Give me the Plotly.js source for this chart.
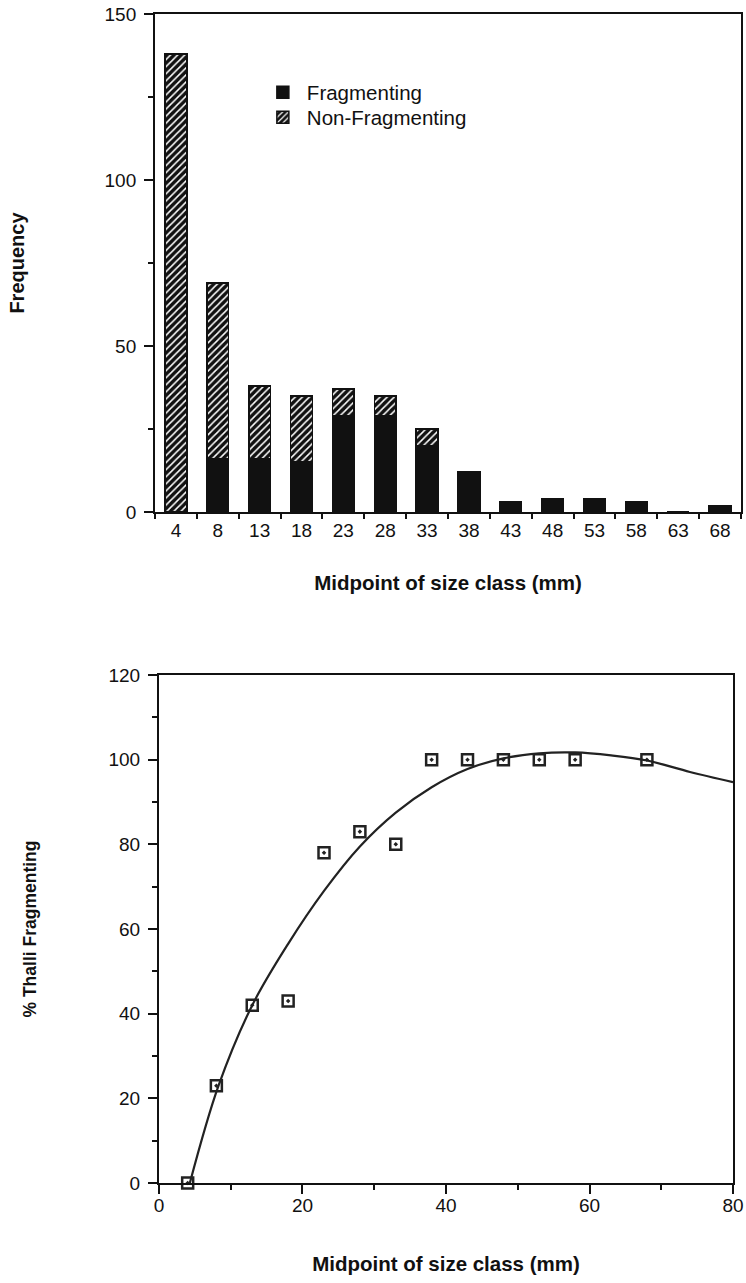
<!DOCTYPE html>
<html><head><meta charset="utf-8">
<script src="https://cdn.plot.ly/plotly-3.0.1.min.js"></script>
<style>html,body{margin:0;padding:0;background:#fff}#chart{width:746px;height:1283px}</style>
</head><body><div id="chart"></div>
<script>
// Top chart: frequency by size class
const sizeClasses = ['4','8','13','18','23','28','33','38','43','48','53','58','63','68'];
const fragmenting = [0,16,16,15,29,29,20,12,3,4,4,3,0,2];
const nonFragmenting = [138,53,22,20,8,6,5,0,0,0,0,0,0,0];
// Bottom chart: % thalli fragmenting
const pctX = [4,8,13,18,23,28,33,38,43,48,53,58,68];
const pctY = [0,23,42,43,78,83,80,100,100,100,100,100,100];
// Fitted curve
const curveX = [4.3,8.3,13,18,23,28,33,38,43,48,53,58,63,68,74,80];
const curveY = [0,23,42,56.5,69,79.5,87.5,93.5,97.8,100.3,101.5,101.7,101,99.8,97.1,94.7];
const topTicks = [0,50,100,150];
const topMinor = [25,75,125];
const botXTicks = [0,20,40,60,80];
const botXMinor = [10,30,50,70];
const botYTicks = [0,20,40,60,80,100,120];
const botYMinor = [10,30,50,70,90,110];

const ink = '#111';
const FF = '"Liberation Sans", Arial, Helvetica, sans-serif';

const traces = [
  {type:'bar', x:sizeClasses, y:fragmenting, name:'Fragmenting', xaxis:'x', yaxis:'y', legend:'legend',
   marker:{color:ink, line:{color:ink, width:1.5}}, hoverinfo:'x+y'},
  {type:'bar', x:sizeClasses, y:nonFragmenting, name:'Non-Fragmenting', xaxis:'x', yaxis:'y', legend:'legend2',
   marker:{color:ink, line:{color:ink, width:1.5},
     pattern:{shape:'/', fgcolor:'#fff', bgcolor:ink, fillmode:'replace', size:5, solidity:0.3}}, hoverinfo:'x+y'},
  {type:'scatter', mode:'lines', x:curveX, y:curveY, xaxis:'x2', yaxis:'y2', showlegend:false,
   line:{color:'#222', width:2.2, shape:'spline', smoothing:1}, hoverinfo:'skip'},
  {type:'scatter', mode:'markers', x:pctX, y:pctY, xaxis:'x2', yaxis:'y2', showlegend:false, cliponaxis:false,
   marker:{symbol:'square-open-dot', size:11, color:'#222', line:{width:2.5, color:'#222'}}}
];

const axBase = {showline:true, linewidth:2, linecolor:ink, mirror:true, showgrid:false, zeroline:false,
  ticks:'outside', tickwidth:2, tickcolor:ink, tickfont:{family:FF, size:19, color:ink}};
const legBase = {xanchor:'left', yanchor:'top', bgcolor:'rgba(0,0,0,0)', itemwidth:38,
  font:{family:FF, size:20.5, color:ink}};

const layout = {
  width:746, height:1283, margin:{l:0,r:0,t:0,b:0},
  paper_bgcolor:'#fff', plot_bgcolor:'#fff',
  font:{family:FF, size:19, color:ink},
  barmode:'stack', bargap:0.48,
  showlegend:true,
  legend:Object.assign({}, legBase, {x:0.347, y:0.9435}),
  legend2:Object.assign({}, legBase, {x:0.347, y:0.924}),
  xaxis:Object.assign({}, axBase, {domain:[0.2078,0.9933], anchor:'y', type:'category',
    range:[-0.5,13.5], tickson:'boundaries', ticklen:5,
    title:{text:'<b>Midpoint of size class (mm)</b>', font:{family:FF, size:20.5, color:ink}, standoff:36}}),
  yaxis:Object.assign({}, axBase, {domain:[0.6009,0.9891], anchor:'x', range:[0,150],
    tickvals:topTicks, ticklen:9, ticklabelstandoff:4,
    minor:{tickvals:topMinor, ticks:'outside', ticklen:5, tickwidth:2, tickcolor:ink},
    title:{text:'<b>Frequency</b>', font:{family:FF, size:20, color:ink}, standoff:75}}),
  xaxis2:Object.assign({}, axBase, {domain:[0.2131,0.9826], anchor:'y2', range:[0,80],
    tickvals:botXTicks, ticklen:9, ticklabelstandoff:-5,
    minor:{tickvals:botXMinor, ticks:'outside', ticklen:5, tickwidth:2, tickcolor:ink},
    title:{text:'<b>Midpoint of size class (mm)</b>', font:{family:FF, size:20.5, color:ink}, standoff:42}}),
  yaxis2:Object.assign({}, axBase, {domain:[0.0779,0.4739], anchor:'x2', range:[0,120],
    tickvals:botYTicks, ticklen:9, ticklabelstandoff:4,
    minor:{tickvals:botYMinor, ticks:'outside', ticklen:5, tickwidth:2, tickcolor:ink},
    title:{text:'<b>% Thalli Fragmenting</b>', font:{family:FF, size:17.5, color:ink}, standoff:67}})
};

Plotly.newPlot('chart', traces, layout, {displayModeBar:false});
</script>
</body></html>
